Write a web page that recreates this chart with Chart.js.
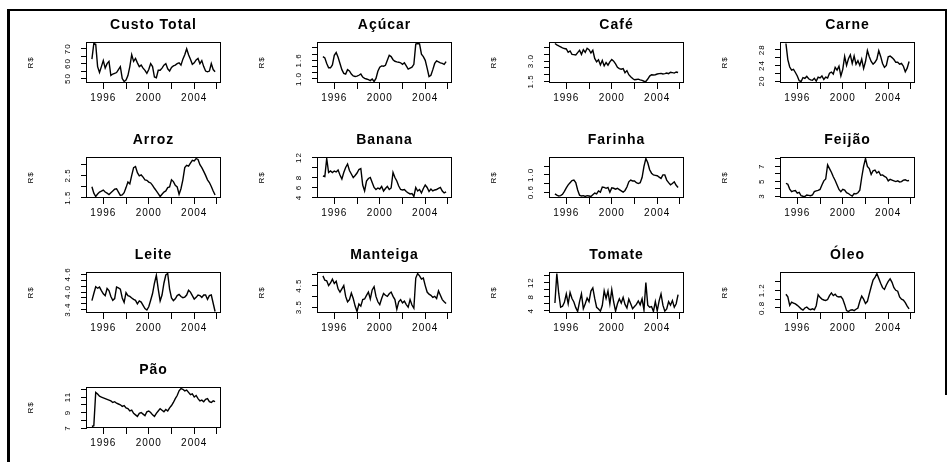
<!DOCTYPE html>
<html>
<head>
<meta charset="utf-8">
<script src="https://cdn.jsdelivr.net/npm/chart.js@4.4.1/dist/chart.umd.min.js"></script>
<style>
  body { margin: 0; background: #fff; }
  #page { position: relative; width: 949px; height: 462px; overflow: hidden; }
  .frame { position: absolute; background: #000; }
  canvas { position: absolute; }
</style>
</head>
<body>
<div id="page">
  <div class="frame" style="left:7px;top:9px;width:3px;height:453px"></div>
  <div class="frame" style="left:7px;top:9px;width:940px;height:2px"></div>
  <div class="frame" style="left:945px;top:9px;width:2px;height:386px"></div>
</div>
<script>
// bimonthly observations, Jan 1995 .. Nov 2005
const startYear = 1995;
const perYear = 6;
const nObs = 66;

const titles = ['Custo Total', 'Açúcar', 'Café', 'Carne', 'Arroz', 'Banana', 'Farinha',
                'Feijão', 'Leite', 'Manteiga', 'Tomate', 'Óleo', 'Pão'];

const custoTotal = [63,73.5,73,58,54,58, 62,57,60,61.5,52,53, 53.5,54,56,58,50,48, 49,52,58,66,61.5,63.5,
  60.5,58,59,57,55.5,53.5, 56,60,58,51,50.5,55.5, 55.5,57,59,60,56.5,55, 57.5,58.5,59,60,60.5,59,
  63,66,70,66,63,59.5, 60.5,62.5,63.5,60,62,58, 55,54.5,55,60,56,54.5];
const acucar = [1.72,1.68,1.5,1.36,1.36,1.45, 1.76,1.85,1.7,1.5,1.3,1.18, 1.16,1.3,1.26,1.16,1.1,1.08,
  1.09,1.12,1.16,1.06,1.02,1.0, 0.98,0.95,1.0,0.92,1.02,1.25, 1.38,1.42,1.41,1.44,1.6,1.76,
  1.72,1.62,1.57,1.55,1.54,1.52, 1.47,1.52,1.42,1.32,1.35,1.38, 1.47,2.12,2.14,2.13,1.8,1.72,
  1.6,1.35,1.08,1.12,1.3,1.5, 1.58,1.55,1.52,1.5,1.47,1.56];
const cafe = [4.3,4.2,4.12,4.05,3.98,3.93, 3.9,3.65,3.75,3.5,3.48,3.45, 3.63,3.8,3.5,3.85,3.65,3.95,
  3.85,3.6,3.8,3.2,2.95,3.1, 2.72,3.05,2.65,2.9,2.7,2.95, 3.12,3.0,2.8,2.55,2.45,2.4,
  2.45,2.15,2.3,2.0,1.85,1.72, 1.63,1.65,1.67,1.62,1.58,1.52, 1.5,1.68,1.9,2.0,1.98,2.0,
  2.05,2.08,2.1,2.05,2.08,2.12, 2.08,2.18,2.15,2.12,2.2,2.16];
const carne = [29.6,25.5,23.6,22.8,23.0,22.2, 21.3,20.1,19.9,20.9,20.7,21.2, 20.6,20.3,20.2,20.7,20.0,21.0,
  20.8,21.3,20.4,21.0,20.8,22.0, 22.3,21.8,23.5,22.8,23.8,21.3, 23.0,26.3,24.0,25.7,26.7,24.5,
  26.4,24.3,25.2,24.0,25.6,23.2, 25.0,27.8,26.2,25.0,24.3,24.8, 25.6,27.8,26.3,24.5,23.5,24.0,
  26.2,26.4,26.0,25.5,24.8,24.8, 24.3,24.5,23.8,22.4,23.3,25.0];
const arroz = [1.99,1.7,1.55,1.66,1.75,1.79, 1.84,1.75,1.7,1.64,1.72,1.8, 1.88,1.9,1.75,1.6,1.62,1.72,
  1.95,2.2,2.12,2.5,2.85,2.9, 2.62,2.48,2.52,2.42,2.3,2.28, 2.2,2.16,2.05,1.92,1.8,1.68,
  1.55,1.65,1.75,1.8,1.95,1.98, 2.3,2.22,2.05,1.98,1.65,1.9, 2.3,2.85,2.95,2.92,3.05,3.18,
  3.15,3.26,3.22,2.98,2.85,2.68, 2.5,2.3,2.18,2.0,1.8,1.62];
const banana = [8.3,8.2,11.8,9.0,9.3,9.0, 9.3,9.1,9.5,8.5,7.7,9.0, 10.0,10.7,9.4,8.7,8.0,8.4,
  8.9,9.6,9.8,6.5,5.3,7.3, 7.8,8.0,7.0,6.0,5.6,5.9, 5.7,6.2,5.3,5.8,6.2,5.6,
  5.9,9.0,8.0,7.3,6.3,5.6, 5.5,5.6,5.2,4.9,4.7,4.8, 4.2,6.0,5.3,5.6,4.9,5.8,
  6.5,6.0,5.2,5.7,5.3,5.5, 5.6,5.8,6.0,5.3,4.9,5.1];
const farinha = [0.56,0.53,0.51,0.52,0.55,0.62, 0.7,0.77,0.82,0.87,0.88,0.82, 0.65,0.53,0.51,0.52,0.5,0.52,
  0.51,0.5,0.54,0.58,0.56,0.63, 0.6,0.72,0.71,0.69,0.71,0.6, 0.7,0.69,0.67,0.69,0.66,0.63,
  0.6,0.64,0.72,0.84,0.88,0.86, 0.86,0.82,0.8,0.82,0.94,1.2, 1.38,1.28,1.12,1.04,1.0,0.99,
  0.98,0.95,0.92,1.0,1.0,0.88, 0.82,0.77,0.8,0.84,0.76,0.71];
const feijao = [4.7,4.6,3.95,3.6,3.7,3.75, 3.4,3.5,3.05,2.98,2.95,3.15, 3.1,3.05,3.15,3.6,3.7,3.76,
  3.9,4.5,5.05,5.3,7.2,6.7, 6.2,5.6,5.1,4.5,3.9,3.6, 3.9,3.8,3.45,3.35,3.15,3.0,
  3.35,3.3,3.45,3.8,5.5,7.0, 8.05,7.0,6.7,5.9,6.4,6.5, 6.1,6.3,5.8,5.85,5.65,5.5,
  5.05,5.25,5.15,5.05,4.95,5.05, 4.9,4.95,5.15,5.2,5.05,5.1];
const leite = [3.71,3.95,4.18,4.13,4.17,4.05, 3.94,3.88,4.12,4.05,3.85,3.72, 3.78,4.17,4.14,4.1,3.8,3.65,
  3.98,3.88,3.85,3.8,3.75,3.72, 3.6,3.7,3.66,3.55,3.44,3.39, 3.5,3.72,3.95,4.3,4.57,4.1,
  3.7,3.9,4.3,4.58,4.63,4.1, 3.8,3.71,3.77,3.88,3.92,3.85, 3.81,3.83,3.9,4.06,4.0,3.88,
  3.76,3.82,3.9,3.88,3.82,3.9, 3.9,3.75,3.88,3.9,3.62,3.34];
const manteiga = [4.95,4.75,4.72,4.5,4.62,4.8, 4.6,4.7,4.35,4.2,4.35,4.5, 4.0,3.75,3.85,4.15,3.9,3.55,
  3.3,3.65,3.55,3.85,3.88,4.05, 4.2,3.88,4.3,4.45,4.0,3.75, 3.62,3.9,4.13,4.05,4.0,4.12,
  4.2,4.0,3.85,3.4,3.75,3.85, 3.7,3.78,3.62,3.5,3.85,3.6, 3.45,4.85,5.06,4.95,4.8,4.85,
  4.5,4.2,4.1,4.05,3.95,4.0, 3.9,4.25,4.05,3.85,3.75,3.67];
const tomate = [6.2,14.6,9.0,5.0,5.3,6.4, 8.8,6.0,9.2,7.5,6.5,4.9, 3.8,6.6,8.8,4.6,6.0,7.6,
  6.6,9.6,10.5,7.5,5.0,4.5, 3.9,5.5,9.7,7.5,9.6,6.0, 10.0,6.5,3.9,6.0,7.4,6.2,
  7.8,5.8,4.8,7.3,6.0,4.6, 5.2,5.8,6.8,5.7,7.4,4.2, 12.0,5.6,5.0,5.2,3.8,6.6,
  4.0,6.8,8.8,5.6,3.9,4.5, 6.6,5.6,6.9,5.0,6.0,8.6];
const oleo = [1.11,1.05,0.86,0.93,0.91,0.89, 0.86,0.82,0.78,0.75,0.8,0.82, 0.78,0.76,0.78,0.76,0.85,1.1,
  1.04,1.0,0.98,0.97,0.99,1.08, 1.14,1.08,1.11,1.06,1.05,1.06, 1.0,0.88,0.74,0.72,0.75,0.76,
  0.74,0.77,0.8,0.95,1.07,1.0, 0.9,0.95,1.12,1.28,1.43,1.49, 1.58,1.47,1.36,1.26,1.22,1.32,
  1.4,1.46,1.38,1.26,1.2,1.18, 1.05,1.0,0.98,0.92,0.84,0.78];
const pao = [7.2,7.3,11.6,11.4,11.1,11.0, 10.9,10.8,10.7,10.6,10.5,10.3, 10.4,10.2,10.1,10.0,9.8,9.9,
  9.6,9.5,9.2,9.3,8.9,8.7, 8.5,8.9,9.0,8.8,8.6,9.1, 9.2,9.0,8.7,8.5,8.9,9.2,
  9.5,9.3,9.1,9.4,9.2,9.6, 9.9,10.3,10.8,11.2,11.8,12.1, 12.0,11.8,11.9,11.6,11.3,11.4,
  11.0,11.2,10.8,10.5,10.6,10.4, 10.7,10.8,10.4,10.3,10.5,10.4];

// y axis ticks (labels R left out because they would overlap are '')
const yTicks = [
  [50, 55, 60, 65, 70], [1.0, 1.2, 1.4, 1.6, 1.8, 2.0], [1.5, 2.0, 2.5, 3.0, 3.5, 4.0], [20, 22, 24, 26, 28],
  [1.5, 2.0, 2.5, 3.0], [4, 6, 8, 10, 12], [0.6, 0.8, 1.0, 1.2], [3, 4, 5, 6, 7, 8],
  [3.4, 3.6, 3.8, 4.0, 4.2, 4.4, 4.6], [3.5, 4.0, 4.5, 5.0], [4, 6, 8, 10, 12, 14], [0.8, 1.0, 1.2, 1.4],
  [7, 8, 9, 10, 11, 12]
];
const yTickText = [
  ['50', '', '60', '', '70'], ['1.0', '', '', '1.6', '', ''], ['1.5', '', '', '3.0', '', ''], ['20', '', '24', '', '28'],
  ['1.5', '', '2.5', ''], ['4', '6', '8', '', '12'], ['0.6', '', '1.0', ''], ['3', '', '5', '', '7', ''],
  ['3.4', '', '', '4.0', '', '', '4.6'], ['3.5', '', '4.5', ''], ['4', '', '8', '', '12', ''], ['0.8', '', '1.2', ''],
  ['7', '', '9', '', '11', '']
];
const xTickYears = [1996, 1998, 2000, 2002, 2004, 2006];
const xTickText = ['1996', '', '2000', '', '2004', ''];

const series = [custoTotal, acucar, cafe, carne, arroz, banana, farinha, feijao, leite, manteiga, tomate, oleo, pao];

// ---- layout (R par(mfrow=c(4,4)) look) ----
const colLeft = [87, 318, 550, 781];
const rowTop = [42, 157, 272, 387];
const boxW = 133, boxH = 41;
const padL = 64, padT = 30, padR = 8, padB = 26;
const tickLen = 6;
const family = "'Liberation Sans', Arial, sans-serif";

const times = [];
for (let i = 0; i < nObs; i++) times.push(startYear + i / perYear);
const tSpan = times[nObs - 1] - times[0];
const xMin = times[0] - 0.04 * tSpan, xMax = times[nObs - 1] + 0.04 * tSpan;

const meas = document.createElement('canvas').getContext('2d');
meas.font = '8px ' + family;
meas.letterSpacing = '1px';

const rStyle = {
  id: 'rStyle',
  beforeLayout(chart) { chart.ctx.letterSpacing = '1px'; },
  beforeDraw(chart) { chart.ctx.letterSpacing = '1px'; },
  afterDraw(chart) {
    const { ctx, chartArea: a } = chart;
    ctx.save();
    ctx.strokeStyle = '#000';
    ctx.lineWidth = 1;
    ctx.strokeRect(Math.round(a.left) - 0.5, Math.round(a.top) + 0.5, Math.round(a.width) + 1, Math.round(a.height) - 1);
    ctx.restore();
  }
};

const page = document.getElementById('page');

series.forEach((vals, p) => {
  const col = p % 4, row = Math.floor(p / 4);
  const cv = document.createElement('canvas');
  cv.width = padL + boxW + padR;
  cv.height = padT + boxH + padB;
  cv.style.left = (colLeft[col] - padL) + 'px';
  cv.style.top = (rowTop[row] - padT) + 'px';
  page.appendChild(cv);

  const lo = Math.min(...vals), hi = Math.max(...vals);
  const yMin = lo - 0.04 * (hi - lo), yMax = hi + 0.04 * (hi - lo);
  const ticks = yTicks[p], text = yTickText[p];
  const widest = Math.max(...text.map(t => meas.measureText(t).width));
  const yPad = 19 - tickLen - widest / 2;

  new Chart(cv, {
    type: 'line',
    data: {
      datasets: [{
        data: vals.map((v, i) => ({ x: times[i], y: v })),
        borderColor: '#000',
        borderWidth: 1.4,
        pointRadius: 0,
        tension: 0,
        fill: false
      }]
    },
    options: {
      responsive: false,
      animation: false,
      events: [],
      layout: { padding: { left: 0, right: padR, top: 0, bottom: 0 } },
      plugins: {
        legend: { display: false },
        tooltip: { enabled: false },
        title: {
          display: true, text: titles[p], color: '#000', fullSize: false,
          font: { family: family, size: 14, weight: 'bold', lineHeight: 1 },
          padding: { top: 6, bottom: 10 }
        }
      },
      scales: {
        x: {
          type: 'linear', min: xMin, max: xMax, bounds: 'data',
          afterBuildTicks: s => { s.ticks = xTickYears.map(v => ({ value: v })); },
          afterFit: s => { s.height = padB; },
          ticks: {
            autoSkip: false, maxRotation: 0, minRotation: 0, padding: 3.5, color: '#000',
            font: { family: family, size: 10 },
            callback: (v, i) => xTickText[i]
          },
          grid: { display: true, drawOnChartArea: false, drawTicks: true, tickLength: tickLen, color: '#000', lineWidth: 1 },
          border: { display: false }
        },
        y: {
          type: 'linear', min: yMin, max: yMax, bounds: 'data',
          afterBuildTicks: s => { s.ticks = ticks.map(v => ({ value: v })); },
          afterFit: s => { s.width = padL; },
          ticks: {
            autoSkip: false, minRotation: 90, maxRotation: 90, crossAlign: 'center', padding: yPad, color: '#000',
            font: { family: family, size: 8 },
            callback: (v, i) => text[i]
          },
          grid: { display: true, drawOnChartArea: false, drawTicks: true, tickLength: tickLen, color: '#000', lineWidth: 1 },
          border: { display: false },
          title: {
            display: true, text: 'R$', color: '#000',
            font: { family: family, size: 8, lineHeight: 1 },
            padding: { top: 4, bottom: 0 }
          }
        }
      }
    },
    plugins: [rStyle]
  });
});
</script>
</body>
</html>
